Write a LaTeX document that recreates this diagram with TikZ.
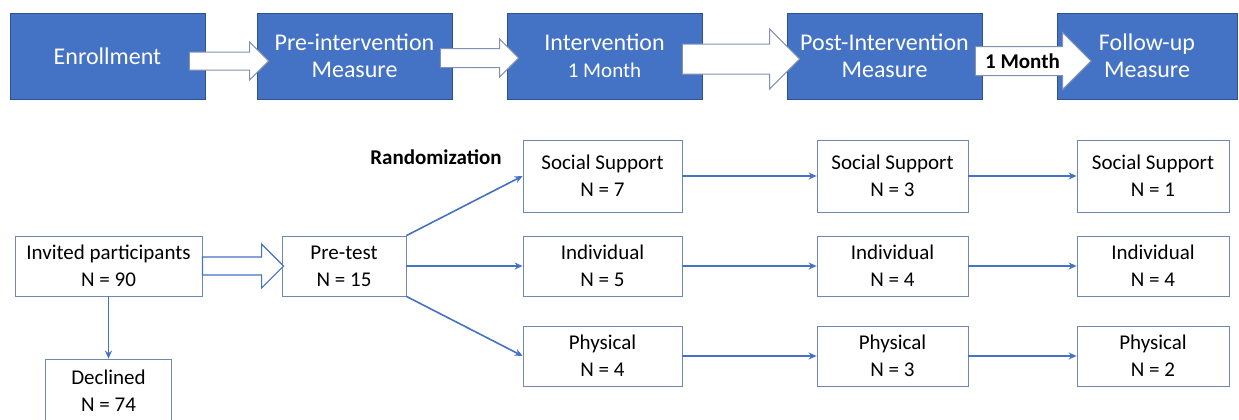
\documentclass[tikz,border=0pt]{standalone}
\usepackage{fontspec}
\setmainfont{Carlito}
\usetikzlibrary{arrows.meta,calc,positioning}
\definecolor{stageblue}{RGB}{68,114,196}
\definecolor{stageedge}{RGB}{47,82,143}
\definecolor{boxedge}{RGB}{110,135,180}
\definecolor{lineblue}{RGB}{68,114,196}
\definecolor{hollowedge}{RGB}{130,145,175}
% block arrow: [style]{from}{to}{tail overlap}{head base}{shaft half}{head half}{y offset}
\newcommand{\fatarrow}[8][hollow]{%
  \draw[#1] ($(#2.east)+(-#4,#8-#6)$) -- ($(#3.west)+(#5,#8-#6)$)
    -- ($(#3.west)+(#5,#8-#7)$) -- ($(#3.west)+(#5+#7,#8)$)
    -- ($(#3.west)+(#5,#8+#7)$) -- ($(#3.west)+(#5,#8+#6)$)
    -- ($(#2.east)+(-#4,#8+#6)$) -- cycle;}

\begin{document}
\begin{tikzpicture}[x=0.5pt, y=-0.5pt,
    stage/.style={draw=stageedge, fill=stageblue, text=white, minimum width=97.5pt,
      minimum height=43pt, inner sep=0pt, align=center, font=\fontsize{12}{13.5}\selectfont},
    group/.style={draw=boxedge, fill=white, minimum height=30pt, inner sep=0pt,
      align=center, font=\fontsize{10.5}{13.5}\selectfont},
    hollow/.style={draw=hollowedge, fill=white, line width=0.5pt},
    hollowblue/.style={draw=lineblue, fill=white, line width=0.6pt},
    link/.style={draw=lineblue, line width=0.8pt, -{Stealth[length=4pt,width=3.5pt]}}]
  \useasboundingbox (0,0) rectangle (1239,419);
  \clip (0,0) rectangle (1239,419);

  % timeline
  \node [stage] (enrol) at (107.5,56) {Enrollment};
  \node [stage] (pre) at (354.5,56) {Pre-intervention\\Measure};
  \node [stage] (interv) at (604.5,56) {Intervention\\{\fontsize{10.5}{12}\selectfont 1 Month}};
  \node [stage] (post) at (884.5,56) {Post-Intervention\\Measure};
  \node [stage, minimum width=90pt] (follow) at (1147,56) {Follow-up\\Measure};

  \fatarrow{enrol}{pre}{16}{-7}{9}{19}{5}
  \fatarrow{pre}{interv}{12}{-7}{9.5}{19}{2}
  \fatarrow{interv}{post}{20}{-17}{15}{30}{3}
  \fatarrow{post}{follow}{7}{6}{14.5}{28.5}{5}
  \node [font=\bfseries\fontsize{10.5}{12}\selectfont] (gap)
    at ($(post.east)!0.5!(follow.west)+(3,5)$) {1 Month};

  % participants
  \node [group, minimum width=93.5pt] (inv) at (108.5,266) {Invited participants\\N = 90};
  \node [group, minimum width=62pt] (pret) at (344,266) {Pre-test\\N = 15};
  \node [group, minimum width=63pt, minimum height=32pt] (decl) at (108.5,391) {Declined\\N = 74};
  \node [font=\bfseries\fontsize{10.5}{12}\selectfont] (rand) at (436,157) {Randomization};

  \node [group, minimum width=79.5pt, minimum height=36pt] (soc1) at (602.5,176) {Social Support\\N = 7};
  \node [group, minimum width=79.5pt] (ind1) at (602.5,266) {Individual\\N = 5};
  \node [group, minimum width=79.5pt] (phy1) at (602.5,356) {Physical\\N = 4};
  \node [group, minimum width=75.5pt, minimum height=36pt] (soc2) at (892.5,176) {Social Support\\N = 3};
  \node [group, minimum width=75.5pt] (ind2) at (892.5,266) {Individual\\N = 4};
  \node [group, minimum width=75.5pt] (phy2) at (892.5,356) {Physical\\N = 3};
  \node [group, minimum width=76pt, minimum height=36pt] (soc3) at (1153,176) {Social Support\\N = 1};
  \node [group, minimum width=76pt] (ind3) at (1153,266) {Individual\\N = 4};
  \node [group, minimum width=76pt] (phy3) at (1153,356) {Physical\\N = 2};

  \fatarrow[hollowblue]{inv}{pret}{0}{-20}{9}{22}{0}
  \draw [link] (inv) -- (decl);
  \draw [link] (pret.north east) -- (soc1.west);
  \draw [link] (pret.east) -- (ind1.west);
  \draw [link] (pret.south east) -- (phy1.west);
  \draw [link] (soc1) -- (soc2);
  \draw [link] (ind1) -- (ind2);
  \draw [link] (phy1) -- (phy2);
  \draw [link] (soc2) -- (soc3);
  \draw [link] (ind2) -- (ind3);
  \draw [link] (phy2) -- (phy3);
\end{tikzpicture}
\end{document}
